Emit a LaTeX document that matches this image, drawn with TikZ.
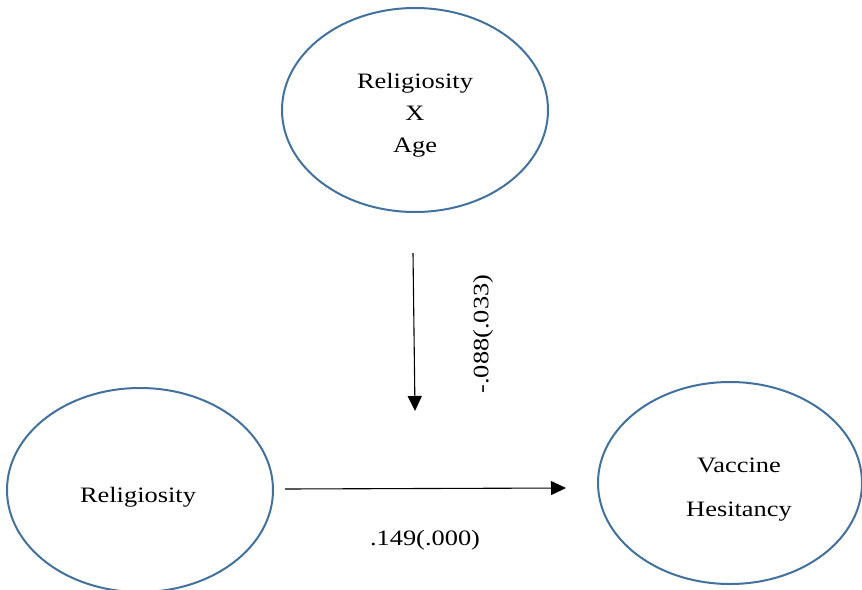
\documentclass[tikz,border=0pt]{standalone}
\usepackage{fontspec}
\setmainfont[FakeStretch=1.2]{Liberation Serif}
\usetikzlibrary{arrows.meta,shapes.geometric}
\definecolor{ellblue}{HTML}{41719C}
\begin{document}
\begin{tikzpicture}[x=1pt,y=-1pt,
  ell/.style={draw=ellblue,line width=2pt,ellipse,inner sep=0pt},
  lbl/.style={font=\fontsize{22}{32}\selectfont,align=center,text=black},
  conn/.style={line width=1.1pt,-{Triangle[length=15pt,width=14pt]}}]
\useasboundingbox (0,0) rectangle (862,589);
\node[ell,minimum width=266pt,minimum height=204pt] (top) at (415,110) {};
\node[ell,minimum width=266pt,minimum height=204pt] (left) at (140,490) {};
\node[ell,minimum width=264pt,minimum height=202pt] (right) at (730,483) {};
\node[lbl] (toptext) at (415,115) {Religiosity\\X\\Age};
\node[lbl] (lefttext) at (138,497) {Religiosity};
\node[lbl,font=\fontsize{22}{44}\selectfont] (righttext) at (739,490) {Vaccine\\Hesitancy};
\coordinate (v1) at (413,253);
\coordinate (v2) at (415,411);
\coordinate (h1) at (285,489);
\coordinate (h2) at (566,488);
\draw[conn] (v1) -- (v2);
\draw[conn] (h1) -- (h2);
\node[lbl,rotate=90] (vl) at (483,334) {-.088(.033)};
\node[lbl] (hl) at (425,540) {.149(.000)};
\end{tikzpicture}
\end{document}
